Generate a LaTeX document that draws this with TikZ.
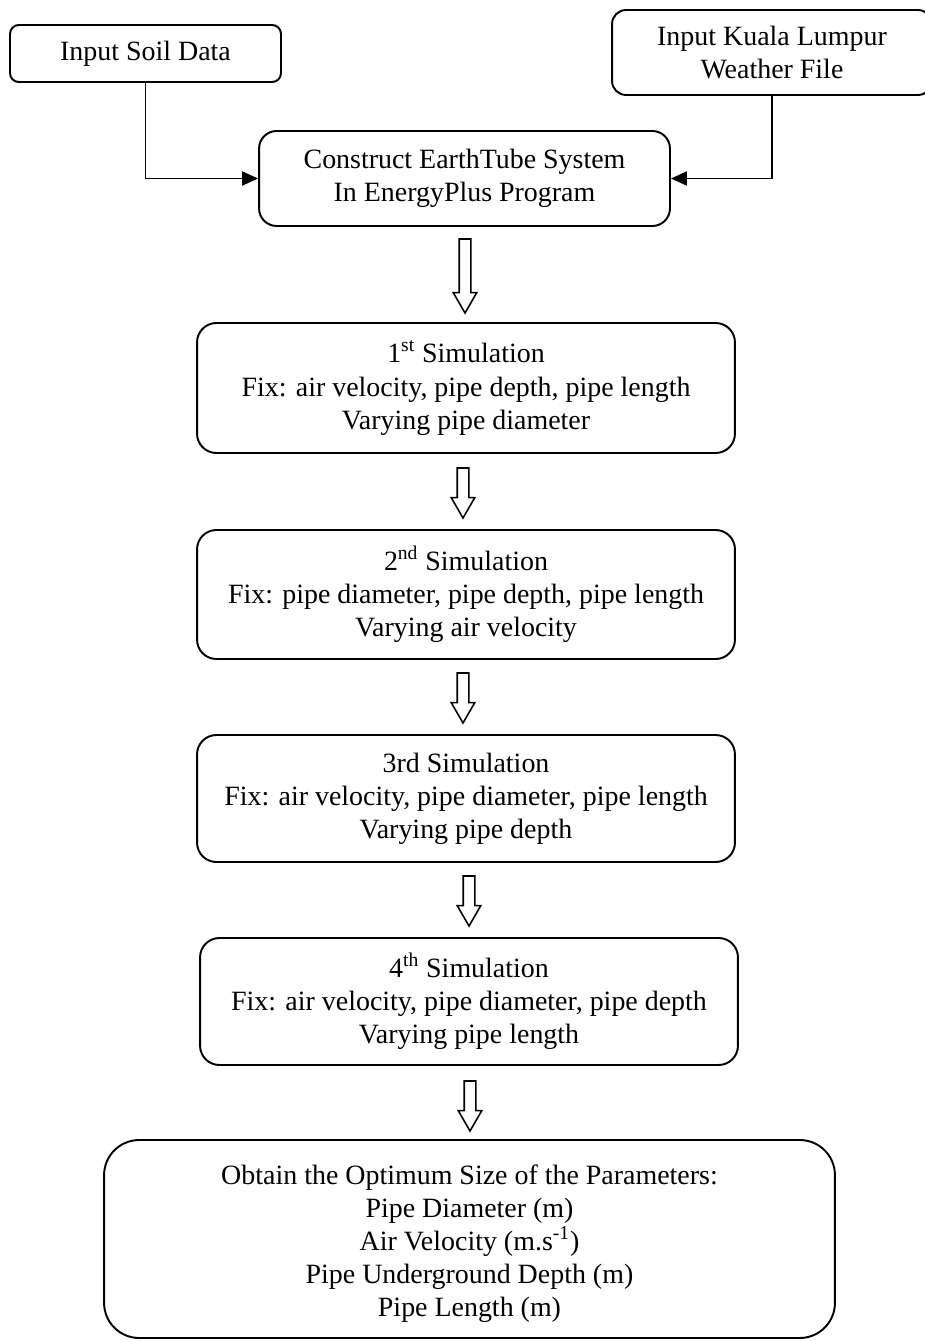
\documentclass[tikz,border=0pt]{standalone}
\usepackage{fontspec}
\setmainfont{Liberation Serif}
\usepackage{tikz}
\usetikzlibrary{arrows.meta, positioning, calc, shapes.arrows}

\begin{document}
\begin{tikzpicture}[x=0.02cm, y=-0.02cm, line width=1.1pt,
          font=\fontsize{15.9}{18.8}\selectfont,
          box/.style={draw, rounded corners=8pt, align=center, inner sep=2pt},
          simbox/.style={box, rounded corners=11pt, minimum width=10.76cm, minimum height=2.6cm},
          hollow/.style={draw, single arrow, shape border rotate=270, line width=.9pt,
                         inner xsep=0.1cm, inner ysep=0pt, single arrow head extend=0.12cm,
                         single arrow tip angle=60}]
          \useasboundingbox (0,0) rectangle (925,1341);
          \node[box, rounded corners=5pt, minimum width=5.42cm, minimum height=1.14cm] (soil) at (145.5,53.5) {Input Soil Data};
          \node[box, minimum width=6.4cm, minimum height=1.7cm] (wea) at (772,52.5) {Input Kuala Lumpur\\Weather File};
          \node[box, rounded corners=10pt, minimum width=8.22cm, minimum height=1.9cm] (con) at (464.5,178.5) {Construct EarthTube System\\In EnergyPlus Program};
          \node[simbox] (sim1) at (466,388) {1\textsuperscript{st} Simulation\\Fix: air velocity, pipe depth, pipe length\\Varying pipe diameter};
          \node[simbox, minimum height=2.58cm] (sim2) at (466,594.5) {2\textsuperscript{nd} Simulation\\Fix: pipe diameter, pipe depth, pipe length\\Varying air velocity};
          \node[simbox, minimum height=2.54cm] (sim3) at (466,798.5) {3rd Simulation\\Fix: air velocity, pipe diameter, pipe length\\Varying pipe depth};
          \node[simbox, minimum height=2.54cm] (sim4) at (469,1001.5) {4\textsuperscript{th} Simulation\\Fix: air velocity, pipe diameter, pipe depth\\Varying pipe length};
          \node[box, rounded corners=20pt, minimum width=14.62cm, minimum height=3.96cm] (opt) at (469.5,1239) {\rule{0pt}{0.58cm}Obtain the Optimum Size of the Parameters:\\Pipe Diameter (m)\\Air Velocity (m.s\textsuperscript{-1})\\Pipe Underground Depth (m)\\Pipe Length (m)};
          % inputs into the model
          \draw[-{Triangle[length=0.32cm, width=0.28cm]}] (soil.south) |- (con.west);
          \draw[-{Triangle[length=0.32cm, width=0.28cm]}] (wea.south) |- (con.east);
          % hollow step arrows
          \node[hollow, minimum height=1.48cm] (a0) at (465,271) {};
          \node[hollow, minimum height=1cm] (a1) at (463,488) {};
          \node[hollow, minimum height=1cm] (a2) at (463,693) {};
          \node[hollow, minimum height=1cm] (a3) at (469,896) {};
          \node[hollow, minimum height=1cm] (a4) at (470,1101) {};
        \end{tikzpicture}
\end{document}
